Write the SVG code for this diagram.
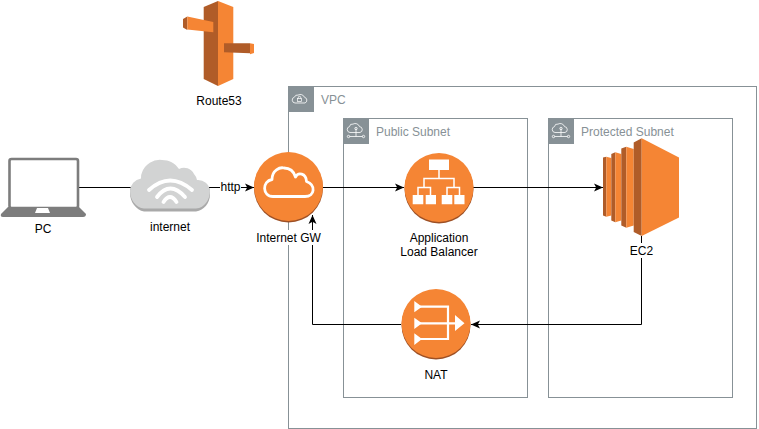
<svg xmlns="http://www.w3.org/2000/svg" width="759" height="429" viewBox="0 0 759 429">
<style>
text{font-family:"Liberation Sans",Arial,Helvetica,sans-serif;font-size:12px;fill:#000;text-anchor:middle}
.grp{fill:none;stroke:#879196;stroke-width:1}
.tab{fill:#879196}
.glbl{fill:#879196;text-anchor:start}
.gi{fill:none;stroke:#fff;stroke-width:.8}
.c{fill:none;stroke:#000;stroke-width:1}
.o{fill:#f58534}.d{fill:#9d5025}.m{fill:#b05c28}
.w{fill:none;stroke:#fff;stroke-width:2.800}
.wf{fill:#fff}
</style>
<defs>
<marker id="a" markerUnits="userSpaceOnUse" markerWidth="10" markerHeight="9" refX="9" refY="4.500" orient="auto"><path d="M0 .5L9 4.500L0 8.500L2.200 4.500Z" fill="#000"/></marker>
</defs>
<g id="vpc"><rect class="grp" x="288.500" y="86.500" width="468" height="342"/><rect class="tab" x="289" y="87" width="25" height="25"/><path class="gi" d="M295 103a3 3 0 0 1-.500-5.900 3 3 0 0 1 3.500-2 4.500 4.500 0 0 1 6.500 2.200 3 3 0 0 1 .500 5.700Z"/><rect x="297.500" y="98.500" width="4" height="3" fill="none" stroke="#fff" stroke-width=".7"/><path class="gi" d="M298.300 98.500v-1a1.200 1.200 0 0 1 2.400 0v1"/><text class="glbl" x="321" y="104">VPC</text></g>
<g id="public-subnet"><rect class="grp" x="343.500" y="118.500" width="184" height="279"/><rect class="tab" x="344" y="119" width="25" height="25"/><path class="gi" d="M350 132.500a3 3 0 0 1-.500-5.900 3 3 0 0 1 3.500-2.500 4.500 4.500 0 0 1 6.500 2.500 3 3 0 0 1 .500 5.900ZM356 128.500V136.500M349.500 136.500h13"/><circle class="gi" cx="356" cy="128.500" r="1.200"/><circle class="gi" cx="348.500" cy="136.500" r="1.200"/><circle class="gi" cx="363.500" cy="136.500" r="1.200"/><text class="glbl" x="376" y="136">Public Subnet</text></g>
<g id="protected-subnet"><rect class="grp" x="548.500" y="118.500" width="184" height="279"/><rect class="tab" x="549" y="119" width="25" height="25"/><path class="gi" d="M555 132.500a3 3 0 0 1-.500-5.900 3 3 0 0 1 3.500-2.500 4.500 4.500 0 0 1 6.500 2.500 3 3 0 0 1 .500 5.900ZM561 128.500V136.500M554.500 136.500h13"/><circle class="gi" cx="561" cy="128.500" r="1.200"/><circle class="gi" cx="553.500" cy="136.500" r="1.200"/><circle class="gi" cx="568.500" cy="136.500" r="1.200"/><text class="glbl" x="581" y="136">Protected Subnet</text></g>
<g id="connectors">
<path class="c" d="M79 187.500H133"/>
<path class="c" d="M208 187.500H220"/>
<path class="c" d="M241 187.500H254" marker-end="url(#a)"/>
<path class="c" d="M322 187.500H404" marker-end="url(#a)"/>
<path class="c" d="M473 187.500H603" marker-end="url(#a)"/>
<path class="c" d="M641.500 236V324.500H471" marker-end="url(#a)"/>
<path class="c" d="M401 324.500H312.500V215" marker-end="url(#a)"/>
</g>
<g id="route53">
<path class="m" d="M203.700 7L218 1V86L203.700 79Z"/><path class="o" d="M218 1L233.300 7V79L218 86Z"/>
<path class="m" d="M183 19L187.300 16.500V30L183 27.500Z"/><path class="o" d="M187.300 16.500L213.300 22V32.300L187.300 29.500Z"/>
<path class="m" d="M224 43.300H250V53.300L224 52.300Z"/><path class="o" d="M250 43.300L254 44V53L250 54.300Z"/>
<text x="219" y="105">Route53</text>
</g>
<g id="pc">
<rect x="9.500" y="159" width="68.500" height="49" rx="2" fill="#fff" stroke="#7d7d7d" stroke-width="2.600"/>
<path d="M8 207H79L86 214Q86 217 83 217H3Q0 217 1 214Z" fill="#7d7d7d"/><path d="M37 208H48L50 213H35Z" fill="#fff"/>
<text x="43" y="233">PC</text>
</g>
<g id="internet">
<path d="M130 193c0 9 6 17 14 18.500H196c8-1 14-9 14-17v-6H130Z" fill="#a9a9a9"/>
<path d="M130 191a13 13 0 0 1 11-12.500 10 10 0 0 1 1-6 19 19 0 0 1 20-12.500c7 0 13 3 17 9a11 11 0 0 1 15 5 12 12 0 0 1 3 6 12 12 0 0 1 13 11c0 8-5 17-14 17.500H144c-8-.5-14-9-14-17.500Z" fill="#d2d3d3"/>
<path d="M149 190Q170 171 192 190M157 197Q170 180 185 197M163.500 202Q170 192 176.500 202" fill="none" stroke="#fff" stroke-width="3.800" stroke-linecap="round"/>
<text x="170" y="231">internet</text>
</g>
<text id="http-label" x="230.500" y="191">http</text>
<g id="internet-gw">
<circle class="d" cx="288.500" cy="188" r="34.500"/><circle class="o" cx="288.500" cy="186.500" r="34.500"/>
<path class="w" d="M273 196.500C262 196.500 262 181 272 179.500C272 170 280 167 284 168C290 168 294 172 295.500 177C298 172 306 173 306.500 181.500C316 185 315 196.500 305 196.500Z" stroke-linejoin="round"/>
<rect x="257" y="230" width="63" height="15" fill="#fff"/>
<text x="288.500" y="242">Internet GW</text>
</g>
<g id="alb">
<circle class="d" cx="439" cy="189" r="34.500"/><circle class="o" cx="439" cy="187.500" r="34.500"/>
<path class="wf" d="M429 159.500H449V170H429ZM412.700 195H423.300V204.300H412.700ZM425.700 195H436V204.300H425.700ZM441.700 195H452.300V204.300H441.700ZM454.300 195H464.500V204.300H454.300Z"/>
<path d="M439 170V178.500M424 187.500V178.500H454V187.500M418 195V187.500H430.500V195M447 195V187.500H459.500V195" fill="none" stroke="#fff" stroke-width="1.500"/>
<text x="439" y="242">Application</text><text x="439" y="256">Load Balancer</text>
</g>
<g id="ec2">
<path class="m" d="M603 157.500L606.300 156.700V216.700L603 215.500Z"/><path class="o" d="M606.300 156.700L611.300 158V215.500L606.300 216.700Z"/>
<path class="m" d="M611.300 154L615.300 152.300V222.300L611.300 220.500Z"/><path class="o" d="M615.300 152.300L621.300 154V220.500L615.300 222.300Z"/>
<path class="m" d="M621.300 148.500L626.300 146.700V227.700L621.300 225.500Z"/><path class="o" d="M626.300 146.700L633.700 149V225.500L626.300 227.700Z"/>
<path class="m" d="M633.700 142.500L641.700 138.300V236L633.700 232Z"/><path class="o" d="M641.700 138.300L679 157.500V217.500L641.700 236Z"/>
<rect x="629" y="243" width="25" height="15" fill="#fff"/>
<text x="641.500" y="255">EC2</text>
</g>
<g id="nat">
<circle class="d" cx="436" cy="325" r="34.500"/><circle class="o" cx="436" cy="323.500" r="34.500"/>
<path d="M420 306.700H448V339H420M420 323.300H456" fill="none" stroke="#fff" stroke-width="2.200"/>
<path class="wf" d="M414.300 301L422 306.700L414.300 312.300ZM414.300 317.700L422 323.300L414.300 329ZM414.300 333.300L422 339L414.300 345ZM455 315L464.500 323.300L455 331Z"/>
<text x="436" y="379">NAT</text>
</g>
</svg>
